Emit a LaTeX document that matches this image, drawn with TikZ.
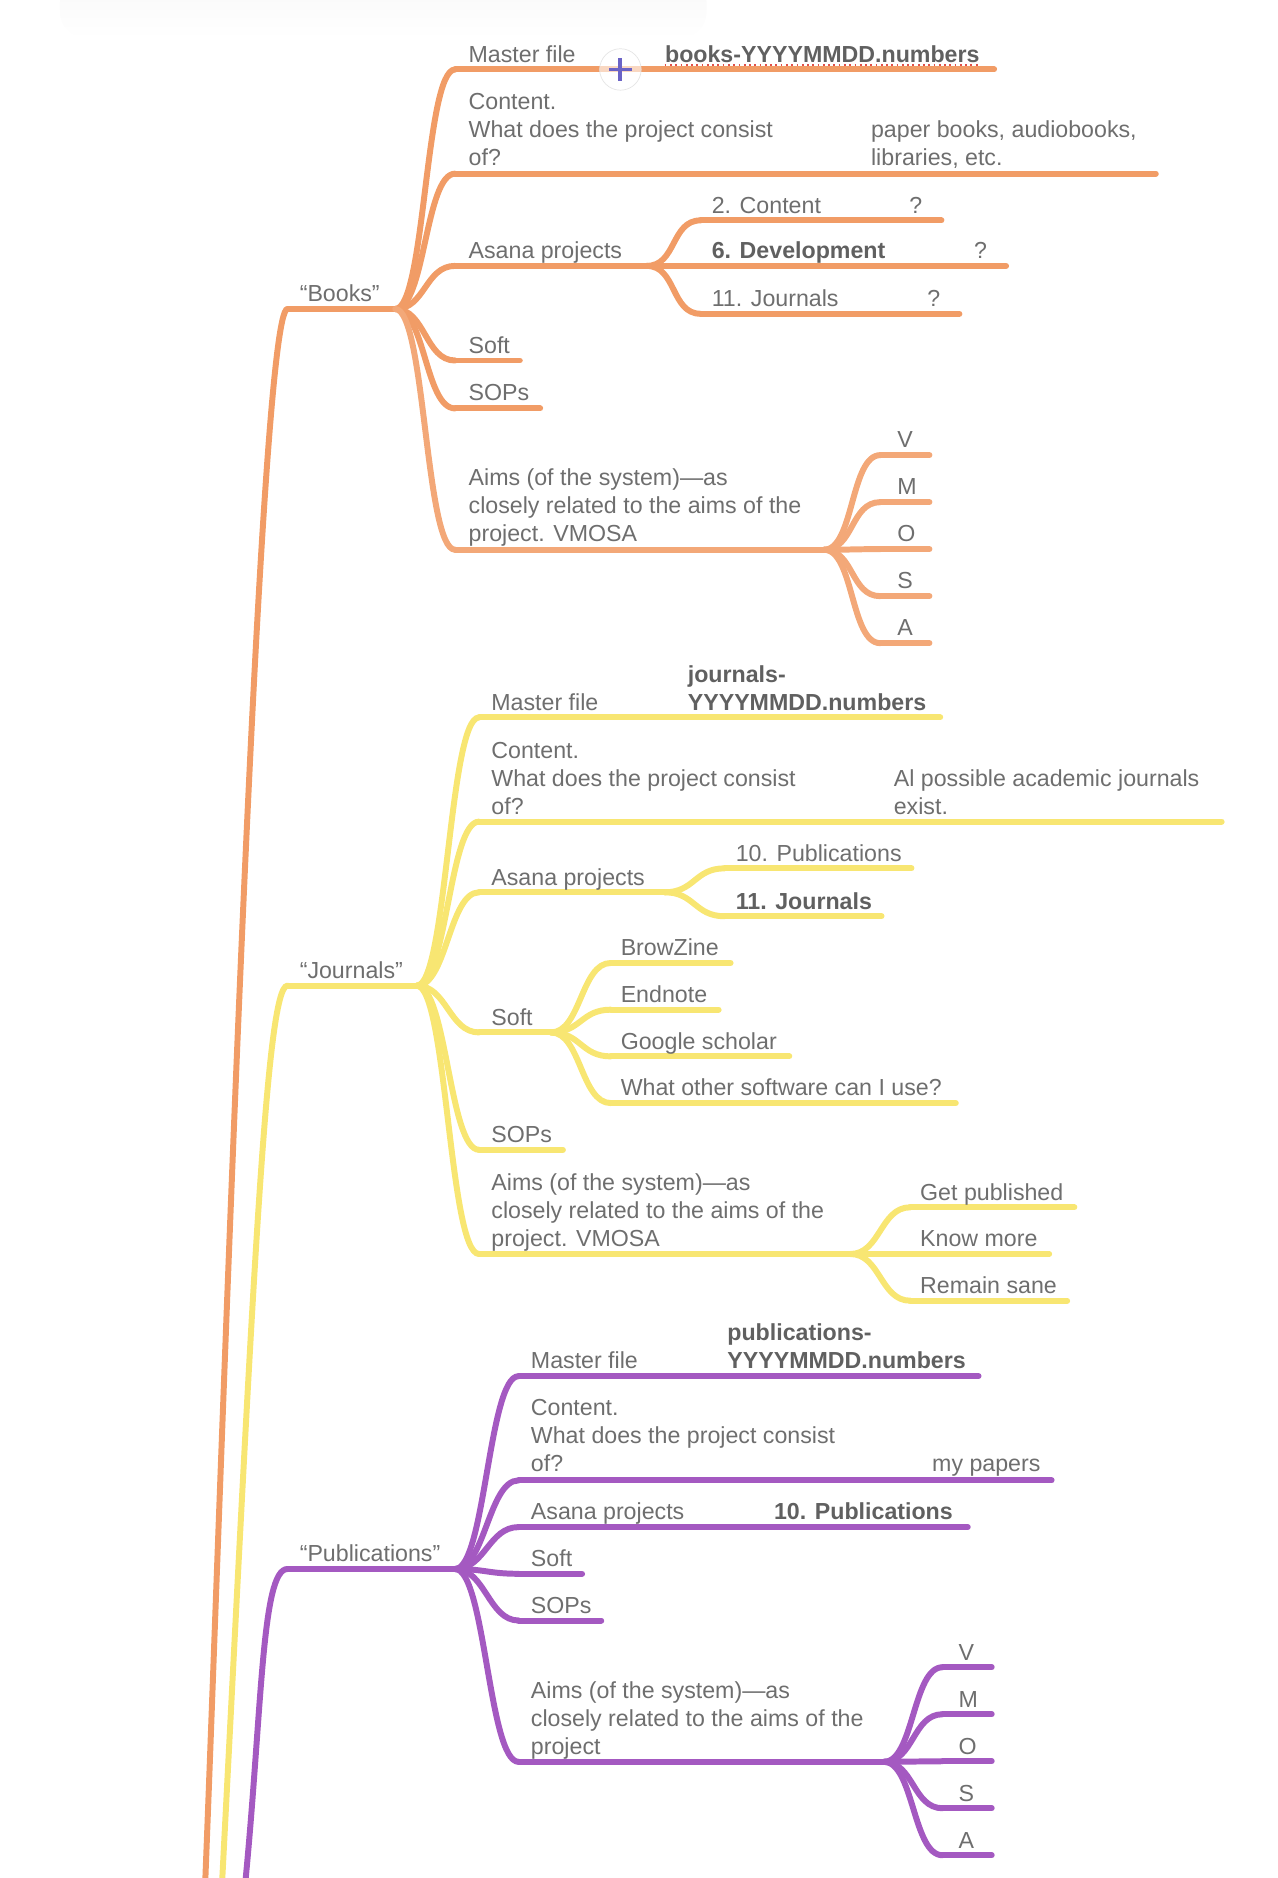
\documentclass[tikz,border=0pt]{standalone}
\usepackage{fontspec}
\setmainfont{Liberation Sans}
\usetikzlibrary{calc}
\definecolor{bookorange}{HTML}{F19C66}
\definecolor{bookpale}{HTML}{F3A878}
\definecolor{jouryellow}{HTML}{F8E672}
\definecolor{pubpurple}{HTML}{A459C1}
\definecolor{labelgrey}{HTML}{6E6E6E}
\definecolor{boldgrey}{HTML}{606060}
\definecolor{plusblue}{HTML}{6B63C6}
\definecolor{spellred}{HTML}{E0504A}
\tikzset{
  branch/.style={line width=3.4pt, line cap=round},
  topic/.style={anchor=base west, inner sep=0pt, align=left, text=labelgrey,
    font=\fontsize{13.2}{16}\selectfont},
  topicb/.style={topic, text=boldgrey, font=\fontsize{13.2}{16}\selectfont\bfseries},
  addbtn/.style={circle, minimum size=0.83cm, inner sep=0pt, fill=white,
    fill opacity=0.6, draw=black!10, line width=0.4pt},
  plusmark/.style={plusblue, line width=2.2pt},
}
% one topic line: name, x start, x end, y
\newcommand{\limb}[4]{%
  \coordinate (#1) at (#2,#4);
  \coordinate (#1-e) at (#3,#4);
  \draw[branch] (#1) -- (#1-e);}
% connector from a parent end to a child start
\newcommand{\twig}[2]{\draw[branch] (#1) .. controls +(25,0) and +(-25,0) .. (#2);}

\begin{document}
\begin{tikzpicture}[x=0.023954cm, y=-0.023954cm]
\useasboundingbox (0,0) rectangle (1067,1568);
\clip (0,0) rectangle (1067,1568);
\shade[top color=black!3, bottom color=white, rounded corners=15pt] (50,-20) rectangle (590,32);

% "Books"
\begin{scope}[bookorange]
  \coordinate (rootB) at (171,1580);
  \limb{books}{240}{330}{258}
  \draw[branch] (rootB) .. controls (185,1230) and (216,258) .. (books);
  \limb{bMaster}{380}{830}{58}
  \limb{bContent}{380}{965}{145}
  \limb{bAsana}{380}{540}{222}
  \limb{bSoft}{380}{434}{301}
  \limb{bSops}{380}{451}{341}
  \foreach \k in {bMaster,bContent,bAsana,bSoft,bSops}
    \twig{books-e}{\k};
  \limb{bAsCont}{585}{786}{184}
  \limb{bAsDev}{585}{840}{222}
  \limb{bAsJour}{585}{801}{262}
  \foreach \k in {bAsCont,bAsDev,bAsJour}
    \twig{bAsana-e}{\k};
\end{scope}
\begin{scope}[bookpale]
  \limb{bAims}{380}{688}{459}
  \twig{books-e}{bAims}
  \foreach \l [count=\i from 0] in {V,M,O,S,A} {
    \limb{bAim\l}{735}{776}{380+39.25*\i}
    \twig{bAims-e}{bAim\l}
    \node[topic] (tbAim\l) at (749,374+39.25*\i) {\l};
  }
\end{scope}
\node[topic] (tBooks) at (250,252) {“Books”};
\node[topic] (tbMaster) at (391,52) {Master file};
\node[topicb] (tbFile) at (555,52) {books-YYYYMMDD.numbers};
\draw[spellred, line width=1pt, dotted] (tbFile.base west) ++(0,2) -- ++(263,0);
\node[addbtn] (plus) at (518,58) {};
\draw[plusmark] ($(plus.center)+(-9.5,0)$) -- ($(plus.center)+(9.5,0)$);
\draw[plusmark] ($(plus.center)+(0,-9.5)$) -- ($(plus.center)+(0,9.5)$);
\node[topic] (tbContent) at (391,138) {Content.\\What does the project consist\\of?};
\node[topic] (tbContVal) at (727,138) {paper books, audiobooks,\\libraries, etc.};
\node[topic] (tbAsana) at (391,216) {Asana projects};
\node[topic] (tbAsCont) at (594,178) {2. Content};
\node[topic] (qbAsCont) at (759,178) {?};
\node[topicb] (tbAsDev) at (594,216) {6. Development};
\node[topic] (qbAsDev) at (813,216) {?};
\node[topic] (tbAsJour) at (594,256) {11. Journals};
\node[topic] (qbAsJour) at (774,256) {?};
\node[topic] (tbSoft) at (391,295) {Soft};
\node[topic] (tbSops) at (391,334) {SOPs};
\node[topic] (tbAims) at (391,452) {Aims (of the system)—as\\closely related to the aims of the\\project. VMOSA};

% "Journals"
\begin{scope}[jouryellow]
  \coordinate (rootJ) at (185,1580);
  \limb{jour}{240}{348}{823}
  \draw[branch] (rootJ) .. controls (211,1080) and (222,823) .. (jour);
  \limb{jMaster}{400}{785}{599}
  \limb{jContent}{400}{1020}{686}
  \limb{jAsana}{400}{555}{745}
  \limb{jSoft}{400}{460}{862}
  \limb{jSops}{400}{470}{960}
  \limb{jAims}{400}{710}{1047}
  \foreach \k in {jMaster,jContent,jAsana,jSoft,jSops,jAims}
    \twig{jour-e}{\k};
  \limb{jAsPub}{605}{761}{725}
  \limb{jAsJour}{605}{736}{765}
  \foreach \k in {jAsPub,jAsJour}
    \twig{jAsana-e}{\k};
  \limb{jBrow}{510}{610}{804}
  \limb{jEnd}{510}{600}{843}
  \limb{jGoogle}{510}{659}{882}
  \limb{jOther}{510}{798}{921}
  \foreach \k in {jBrow,jEnd,jGoogle,jOther}
    \twig{jSoft-e}{\k};
  \limb{jGet}{760}{897}{1008}
  \limb{jKnow}{760}{876}{1047}
  \limb{jSane}{760}{891}{1086}
  \foreach \k in {jGet,jKnow,jSane}
    \twig{jAims-e}{\k};
\end{scope}
\node[topic] (tJour) at (250,817) {“Journals”};
\node[topic] (tjMaster) at (410,593) {Master file};
\node[topicb] (tjFile) at (574,593) {journals-\\YYYYMMDD.numbers};
\node[topic] (tjContent) at (410,680) {Content.\\What does the project consist\\of?};
\node[topic] (tjContVal) at (746,680) {Al possible academic journals\\exist.};
\node[topic] (tjAsana) at (410,739) {Asana projects};
\node[topic] (tjAsPub) at (614,719) {10. Publications};
\node[topicb] (tjAsJour) at (614,759) {11. Journals};
\node[topic] (tjSoft) at (410,856) {Soft};
\node[topic] (tjBrow) at (518,798) {BrowZine};
\node[topic] (tjEnd) at (518,837) {Endnote};
\node[topic] (tjGoogle) at (518,876) {Google scholar};
\node[topic] (tjOther) at (518,915) {What other software can I use?};
\node[topic] (tjSops) at (410,954) {SOPs};
\node[topic] (tjAims) at (410,1041) {Aims (of the system)—as\\closely related to the aims of the\\project. VMOSA};
\node[topic] (tjGet) at (768,1002) {Get published};
\node[topic] (tjKnow) at (768,1041) {Know more};
\node[topic] (tjSane) at (768,1080) {Remain sane};

% "Publications"
\begin{scope}[pubpurple]
  \coordinate (rootP) at (204,1580);
  \limb{pubs}{240}{380}{1310}
  \draw[branch] (rootP) .. controls (219,1430) and (218,1310) .. (pubs);
  \limb{pMaster}{433}{817}{1149}
  \limb{pContent}{433}{878}{1236}
  \limb{pAsana}{433}{808}{1275}
  \limb{pSoft}{433}{486}{1314}
  \limb{pSops}{433}{502}{1353}
  \limb{pAims}{433}{738}{1471}
  \foreach \k in {pMaster,pContent,pAsana,pSoft,pSops,pAims}
    \twig{pubs-e}{\k};
  \foreach \l [count=\i from 0] in {V,M,O,S,A} {
    \limb{pAim\l}{787}{828}{1392+39.25*\i}
    \twig{pAims-e}{pAim\l}
    \node[topic] (tpAim\l) at (800,1386+39.25*\i) {\l};
  }
\end{scope}
\node[topic] (tPubs) at (250,1304) {“Publications”};
\node[topic] (tpMaster) at (443,1143) {Master file};
\node[topicb] (tpFile) at (607,1143) {publications-\\YYYYMMDD.numbers};
\node[topic] (tpContent) at (443,1229) {Content.\\What does the project consist\\of?};
\node[topic, anchor=base east] (tpContVal) at (869,1229) {my papers};
\node[topic] (tpAsana) at (443,1269) {Asana projects};
\node[topicb] (tpAsPub) at (646,1269) {10. Publications};
\node[topic] (tpSoft) at (443,1308) {Soft};
\node[topic] (tpSops) at (443,1347) {SOPs};
\node[topic] (tpAims) at (443,1465) {Aims (of the system)—as\\closely related to the aims of the\\project};
\end{tikzpicture}
\end{document}
